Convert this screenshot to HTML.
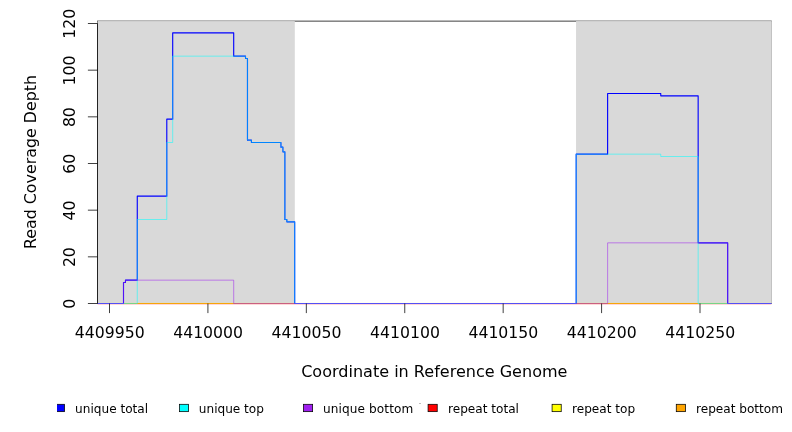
<!DOCTYPE html>
<html><head><meta charset="utf-8"><title>Read Coverage Depth</title>
<style>html,body{margin:0;padding:0;background:#fff;}body{width:792px;height:432px;position:relative;overflow:hidden;}</style>
</head><body>
<svg width="792" height="432" viewBox="0 0 792 432" style="position:absolute;left:0;top:0">
<rect x="97.5" y="21.1" width="673.9" height="282.4" stroke="#000" stroke-width="0.75" fill="none"/>
<rect x="97.5" y="21.1" width="197.31" height="282.4" fill="#d9d9d9"/>
<rect x="576.04" y="21.1" width="195.81" height="282.4" fill="#d9d9d9"/>
<path d="M97.5 303.8H771.4" stroke="#ff0000" stroke-width="0.525" fill="none"/>
<path d="M97.5 303.4H771.4" stroke="#ffff00" stroke-width="0.525" fill="none"/>
<path d="M97.5 303.5H771.4" stroke="#ffa500" stroke-width="0.8" fill="none"/>
<path d="M97.5 303.5H123.5V282.5H125.46V280.17H137.27V196.17H166.79V119.17H172.7V32.83H233.7V56.17H245.51V58.5H247.48V140.17H251.42V142.5H280.94V147.17H282.9V151.83H284.87V219.5H286.84V221.83H294.71V303.5H576.14V154.17H607.62V93.5H660.76V95.83H698.15V242.83H727.67V303.5H771.4" stroke="#0000ff" stroke-width="1.125" fill="none" stroke-linejoin="round"/>
<path d="M97.5 303.5H137.27V219.5H166.79V142.5H172.7V56.17H245.51V58.5H247.48V140.17H251.42V142.5H280.94V147.17H282.9V151.83H284.87V219.5H286.84V221.83H294.71V303.5H576.14V154.17H660.76V156.5H698.15V303.5H771.4" stroke="#00ffff" stroke-width="0.525" fill="none" stroke-linejoin="round"/>
<path d="M97.5 303.5H123.5V282.5H125.46V280.17H233.7V303.5H607.62V242.83H727.67V303.5H771.4" stroke="#a020f0" stroke-width="0.525" fill="none" stroke-linejoin="round"/>
<g stroke="#000" stroke-width="0.75" fill="none">
<path d="M97.5 303.5V23.5"/>
<path d="M97.5 303.5H87.9"/>
<path d="M97.5 256.83H87.9"/>
<path d="M97.5 210.17H87.9"/>
<path d="M97.5 163.5H87.9"/>
<path d="M97.5 116.83H87.9"/>
<path d="M97.5 70.17H87.9"/>
<path d="M97.5 23.5H87.9"/>
<path d="M109.5 303.5V313.1"/>
<path d="M207.92 303.5V313.1"/>
<path d="M306.33 303.5V313.1"/>
<path d="M404.75 303.5V313.1"/>
<path d="M503.17 303.5V313.1"/>
<path d="M601.58 303.5V313.1"/>
<path d="M700.0 303.5V313.1"/>
</g>
<g font-family="'DejaVu Sans', 'Liberation Sans', sans-serif" fill="#000" opacity="0.999">
<g font-size="15.7px" text-anchor="middle">
<text x="109.7" y="338.1">4409950</text>
<text x="208.12" y="338.1">4410000</text>
<text x="306.53" y="338.1">4410050</text>
<text x="404.95" y="338.1">4410100</text>
<text x="503.37" y="338.1">4410150</text>
<text x="601.78" y="338.1">4410200</text>
<text x="700.2" y="338.1">4410250</text>
<text transform="translate(75.2,303.8) rotate(-90)">0</text>
<text transform="translate(75.2,257.13) rotate(-90)">20</text>
<text transform="translate(75.2,210.47) rotate(-90)">40</text>
<text transform="translate(75.2,163.8) rotate(-90)">60</text>
<text transform="translate(75.2,117.13) rotate(-90)">80</text>
<text transform="translate(75.2,70.47) rotate(-90)">100</text>
<text transform="translate(75.2,23.8) rotate(-90)">120</text>
</g>
<text x="434.3" y="376.8" font-size="16.05px" text-anchor="middle">Coordinate in Reference Genome</text>
<text transform="translate(36,162) rotate(-90)" font-size="15.87px" text-anchor="middle">Read Coverage Depth</text>
<clipPath id="lc"><rect x="57" y="395" width="735" height="37"/></clipPath>
<g font-size="12.1px" clip-path="url(#lc)">
<rect x="55.38" y="404.3" width="9.15" height="7.35" fill="#0000ff" stroke="#000" stroke-width="0.75"/>
<text x="75.1" y="412.8">unique total</text>
<rect x="179.47" y="404.3" width="9.15" height="7.35" fill="#00ffff" stroke="#000" stroke-width="0.75"/>
<text x="198.8" y="412.8">unique top</text>
<rect x="303.48" y="404.3" width="9.15" height="7.35" fill="#a020f0" stroke="#000" stroke-width="0.75"/>
<text x="323.0" y="412.8" letter-spacing="0.1">unique bottom</text>
<rect x="428.07" y="404.3" width="9.15" height="7.35" fill="#ff0000" stroke="#000" stroke-width="0.75"/>
<text x="448.0" y="412.8">repeat total</text>
<rect x="552.08" y="404.3" width="9.15" height="7.35" fill="#ffff00" stroke="#000" stroke-width="0.75"/>
<text x="572.0" y="412.8">repeat top</text>
<rect x="676.27" y="404.3" width="9.15" height="7.35" fill="#ffa500" stroke="#000" stroke-width="0.75"/>
<text x="696.0" y="412.8">repeat bottom</text>
</g>
</g>
<path d="M419 403.5H421" stroke="#aaa" stroke-width="0.75" fill="none"/>
</svg>
</body></html>
